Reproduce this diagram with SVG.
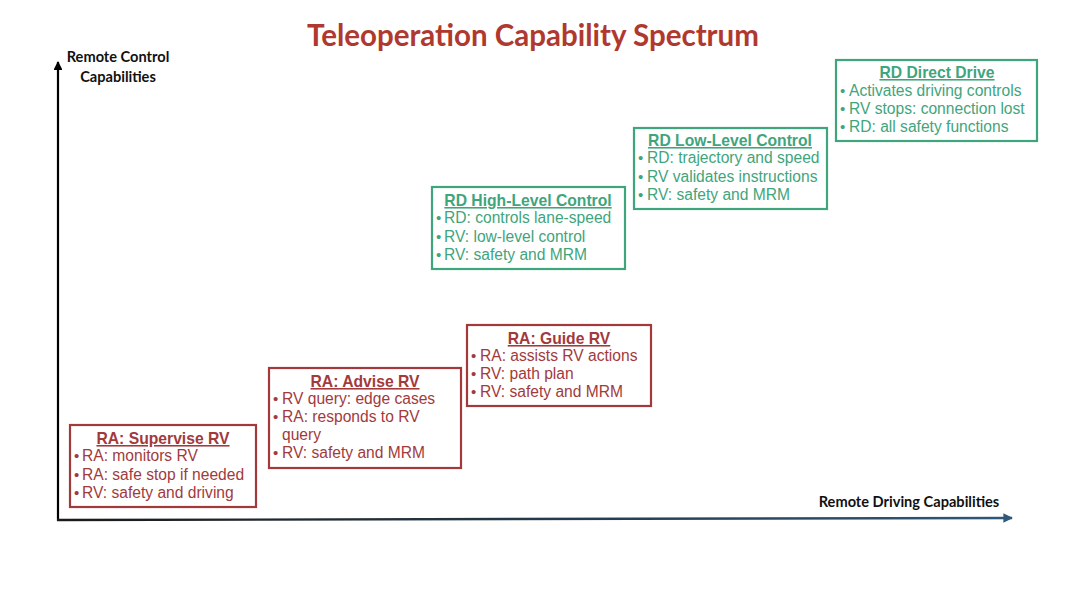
<svg xmlns="http://www.w3.org/2000/svg" width="1080" height="607" viewBox="0 0 1080 607">
<defs>
<marker id="ahBlack" viewBox="0 0 10 10" refX="9" refY="5" markerWidth="4" markerHeight="4" orient="auto"><path d="M0,0 L10,5 L0,10 z" fill="#000"/></marker>
<marker id="ahBlue" viewBox="0 0 10 10" refX="9" refY="5" markerWidth="4" markerHeight="4" orient="auto"><path d="M0,0 L10,5 L0,10 z" fill="#2f5879"/></marker>
<linearGradient id="xg" x1="0" y1="0" x2="1" y2="0"><stop offset="0" stop-color="#1a1a1a"/><stop offset="1" stop-color="#2f5879"/></linearGradient>
</defs>
<style>
.title{font-family:Lato,"Open Sans","Liberation Sans",sans-serif;font-weight:bold;font-size:29.5px;fill:#b0392f}
.axis{font-family:Lato,"Open Sans","Liberation Sans",sans-serif;font-weight:bold;font-size:14.6px;fill:#111}
.red rect{fill:#fff;stroke:#a23a3c;stroke-width:2.2}
.green rect{fill:#fff;stroke:#3fa57c;stroke-width:2.2}
.red text{fill:#a23a3c}
.green text{fill:#3fa57c}
.h{font-family:"Liberation Sans",Arial,sans-serif;font-weight:bold;font-size:15.7px;text-decoration:underline;text-anchor:middle}
.b{font-family:"Liberation Sans",Arial,sans-serif;font-size:15.6px}
.d{font-family:"Liberation Sans",Arial,sans-serif;font-size:15px}
</style>
<rect width="1080" height="607" fill="#fff"/>
<text class="title" x="533" y="46" text-anchor="middle">Teleoperation Capability Spectrum</text>
<g id="axes">
<line x1="58" y1="521" x2="58" y2="62" stroke="#000" stroke-width="2.2" marker-end="url(#ahBlack)"/>
<line x1="57" y1="520" x2="1012" y2="518" stroke="url(#xg)" stroke-width="2.4" marker-end="url(#ahBlue)"/>
<text class="axis" x="118" y="62" text-anchor="middle">Remote Control</text>
<text class="axis" x="118" y="82" text-anchor="middle">Capabilities</text>
<text class="axis" x="909" y="507" text-anchor="middle">Remote Driving Capabilities</text>
</g>
<g id="supervise" class="red">
<rect x="70" y="425" width="186" height="82"/>
<text class="h" x="163" y="444">RA: Supervise RV</text>
<text class="d" x="74" y="461">•</text><text class="b" x="82" y="461">RA: monitors RV</text>
<text class="d" x="74" y="480">•</text><text class="b" x="82" y="480">RA: safe stop if needed</text>
<text class="d" x="74" y="498">•</text><text class="b" x="82" y="498">RV: safety and driving</text>
</g>
<g id="advise" class="red">
<rect x="269" y="368" width="192" height="100"/>
<text class="h" x="365" y="387">RA: Advise RV</text>
<text class="d" x="273" y="404">•</text><text class="b" x="282" y="404">RV query: edge cases</text>
<text class="d" x="273" y="422">•</text><text class="b" x="282" y="422">RA: responds to RV</text>
<text class="b" x="282" y="440">query</text>
<text class="d" x="273" y="458">•</text><text class="b" x="282" y="458">RV: safety and MRM</text>
</g>
<g id="guide" class="red">
<rect x="467" y="325" width="184" height="81"/>
<text class="h" x="559" y="344">RA: Guide RV</text>
<text class="d" x="471" y="361">•</text><text class="b" x="480" y="361">RA: assists RV actions</text>
<text class="d" x="471" y="379">•</text><text class="b" x="480" y="379">RV: path plan</text>
<text class="d" x="471" y="397">•</text><text class="b" x="480" y="397">RV: safety and MRM</text>
</g>
<g id="highlevel" class="green">
<rect x="432" y="187" width="193" height="82"/>
<text class="h" x="528" y="206">RD High-Level Control</text>
<text class="d" x="436" y="223">•</text><text class="b" x="444" y="223">RD: controls lane-speed</text>
<text class="d" x="436" y="242">•</text><text class="b" x="444" y="242">RV: low-level control</text>
<text class="d" x="436" y="260">•</text><text class="b" x="444" y="260">RV: safety and MRM</text>
</g>
<g id="lowlevel" class="green">
<rect x="634" y="128" width="193" height="81"/>
<text class="h" x="730" y="146">RD Low-Level Control</text>
<text class="d" x="638" y="163">•</text><text class="b" x="647" y="163">RD: trajectory and speed</text>
<text class="d" x="638" y="182">•</text><text class="b" x="647" y="182">RV validates instructions</text>
<text class="d" x="638" y="200">•</text><text class="b" x="647" y="200">RV: safety and MRM</text>
</g>
<g id="directdrive" class="green">
<rect x="836" y="60" width="201" height="81"/>
<text class="h" x="937" y="78">RD Direct Drive</text>
<text class="d" x="840" y="96">•</text><text class="b" x="849" y="96">Activates driving controls</text>
<text class="d" x="840" y="114">•</text><text class="b" x="849" y="114">RV stops: connection lost</text>
<text class="d" x="840" y="132">•</text><text class="b" x="849" y="132">RD: all safety functions</text>
</g>
</svg>
